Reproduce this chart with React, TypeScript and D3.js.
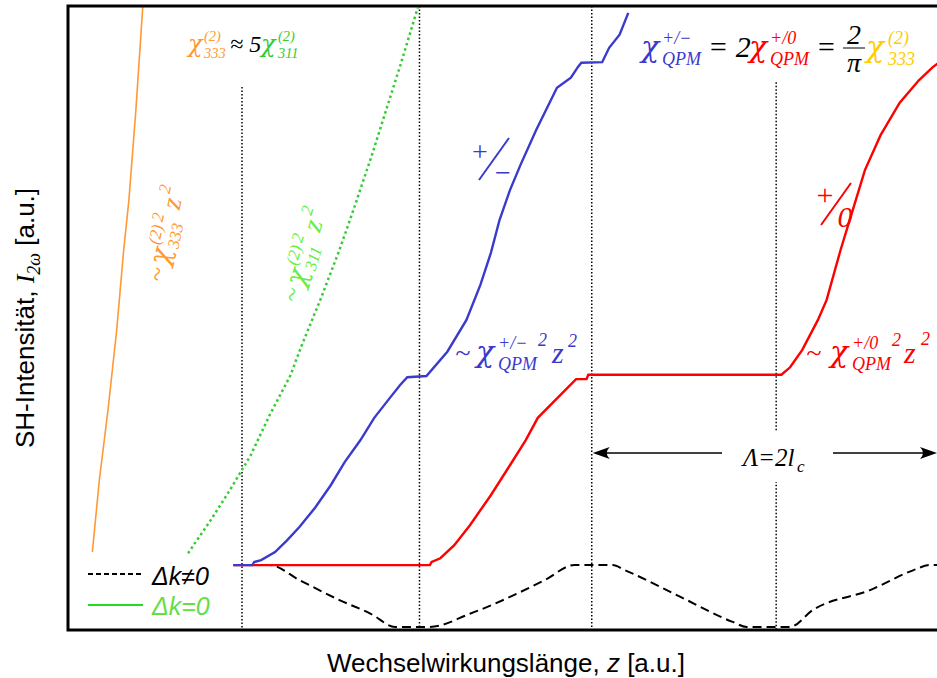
import React from 'react';
import * as d3 from 'd3';

const W = 937;
const H = 678;
const SERIF = "'Liberation Serif', 'Times New Roman', serif";
const GREEK = "'DejaVu Serif', 'Liberation Serif', serif";
const SANS = "'Liberation Sans', Arial, sans-serif";

// z in a.u. (l_c ~ 10), I_2w in a.u.
const dkNonZero: [number, number][] = [
  [9.6, 10.4], [11.6, 10.4], [13.3, 8.0], [15.6, 4.8], [17.4, 2.6], [18.8, 0.5],
  [20.8, 0.5], [23.1, 2.6], [25.4, 5.3], [27.4, 8.0], [29.1, 10.4], [31.3, 10.4],
  [32.0, 9.6], [35.2, 5.3], [38.2, 1.3], [39.0, 0.5], [41.5, 0.5], [42.8, 3.2],
  [46.1, 6.4], [48.6, 9.6], [49.5, 10.4], [50.4, 10.4],
];
const qpmPlusZero: [number, number][] = [
  [9.5, 10.4], [20.8, 10.4], [20.9, 10.9], [21.4, 11.5], [22.2, 13.6], [23.1, 16.8],
  [24.3, 21.6], [25.4, 26.4], [26.3, 30.4], [27.0, 34.0], [29.2, 40.2], [29.8, 40.2],
  [29.9, 40.9], [41.0, 40.9], [41.5, 42.1], [42.2, 44.9], [43.1, 49.7], [43.6, 52.9],
  [44.4, 60.9], [45.1, 67.3], [45.8, 73.7], [46.7, 79.3], [47.8, 84.5], [48.9, 88.1],
  [49.7, 90.2], [50.4, 91.7],
];
const qpmPlusMinus: [number, number][] = [
  [9.5, 10.4], [10.6, 10.4], [10.7, 10.9], [11.1, 11.2], [11.9, 12.5], [12.6, 14.4],
  [13.3, 16.5], [14.2, 19.6], [15.1, 23.2], [15.9, 26.9], [16.8, 30.4], [17.6, 34.0],
  [18.5, 37.2], [19.1, 39.3], [19.5, 40.5], [20.6, 40.7], [21.8, 44.6], [22.9, 49.7],
  [23.7, 55.3], [24.3, 60.4], [24.8, 65.7], [25.4, 70.5], [26.0, 74.5], [26.9, 80.1],
  [28.1, 86.9], [28.9, 88.5], [29.3, 90.2], [29.5, 90.9], [30.7, 91.0], [31.1, 93.3],
  [31.7, 95.4], [32.2, 98.9],
];
const chi311: [number, number][] = [
  [6.9, 12.3], [8.2, 17.6], [9.3, 22.4], [10.5, 28.0], [11.6, 34.5], [12.8, 40.9],
  [13.4, 45.4], [14.5, 52.9], [15.6, 60.9], [16.5, 68.1], [17.5, 76.4], [18.1, 81.7],
  [19.1, 90.5], [20.1, 99.7],
];
const chi333: [number, number][] = [
  [1.4, 12.5], [1.8, 24.0], [2.3, 35.3], [2.8, 48.1], [3.2, 60.9], [3.5, 68.9],
  [3.9, 83.3], [4.3, 100],
];
const markZ = [10.0, 20.2, 30.1, 40.7];
const markTop = [87, 100, 100, 87.8];

const x = d3.scaleLinear().domain([0, 50]).range([68, 938]);
const y = d3.scaleLinear().domain([0, 100]).range([630, 6]);
const line = d3.line<[number, number]>().x(d => x(d[0])).y(d => y(d[1]));
const smooth = d3.line<[number, number]>().x(d => x(d[0])).y(d => y(d[1])).curve(d3.curveMonotoneX);

const Chi = ({ x0, y0, color, size, sup, sub, dx }: any) => (
  <g fill={color} fontStyle="italic">
    <text x={x0} y={y0} fontSize={size} fontFamily={GREEK}>χ</text>
    <text x={x0 + dx} y={y0 - size * 0.45} fontSize={size * 0.6} fontFamily={SERIF}>{sup}</text>
    <text x={x0 + dx} y={y0 + size * 0.25} fontSize={size * 0.6} fontFamily={SERIF}>{sub}</text>
  </g>
);

const arrowHead = (tx: number, ty: number, dir: number) =>
  `M${tx},${ty} L${tx + dir * 17},${ty - 6} Q${tx + dir * 11},${ty} ${tx + dir * 17},${ty + 6} Z`;

export default function App() {
  const x0 = x(0), yTop = y(100), yBot = y(0);
  const yArrow = 453;
  return (
    <svg width={W} height={H} style={{ position: 'absolute', left: 0, top: 0, background: '#fff' }}>
      <rect width={W} height={H} fill="#fff" />
      {/* coherence length markers */}
      {markZ.map((z, i) => (
        <line key={i} x1={x(z)} x2={x(z)} y1={y(markTop[i])} y2={yBot}
          stroke="#000" strokeWidth={1.5} strokeDasharray="1.5 2" />
      ))}
      <path d={line(chi333)!} fill="none" stroke="#ff9933" strokeWidth={1.6} />
      <path d={line(chi311)!} fill="none" stroke="#33cc33" strokeWidth={2.5} strokeDasharray="2.5 3" />
      <path d={smooth(dkNonZero)!} fill="none" stroke="#000" strokeWidth={2} strokeDasharray="9 5" />
      <path d={line(qpmPlusZero)!} fill="none" stroke="#ff0000" strokeWidth={2.4} />
      <path d={line(qpmPlusMinus)!} fill="none" stroke="#3a3acc" strokeWidth={2.4} />

      {/* frame */}
      <path d={`M${x0},${yTop} H${W + 5} M${x0},${yTop - 1.5} V${yBot + 1.5} M${x0},${yBot} H${W + 5}`}
        stroke="#000" strokeWidth={3} fill="none" />

      {/* Lambda arrows */}
      <rect x={728} y={432} width={100} height={50} fill="#fff" />
      <line x1={x(30.1) + 4} x2={722} y1={yArrow} y2={yArrow} stroke="#000" strokeWidth={1.5} />
      <path d={arrowHead(x(30.1) + 1, yArrow, 1)} fill="#000" />
      <line x1={833} x2={x(50) - 4} y1={yArrow} y2={yArrow} stroke="#000" strokeWidth={1.5} />
      <path d={arrowHead(x(50) - 1, yArrow, -1)} fill="#000" />
      <text x={743} y={466} fontFamily={SERIF} fontStyle="italic" fontSize={25}>Λ=2l</text>
      <text x={797} y={472} fontFamily={SERIF} fontStyle="italic" fontSize={17}>c</text>

      {/* top-left formula */}
      <Chi x0={188} y0={52} color="#ff9933" size={24} sup="(2)" sub="333" dx={16} />
      <text x={230} y={52} fontFamily={SERIF} fontStyle="italic" fontSize={24}>≈ 5</text>
      <Chi x0={261} y0={52} color="#33cc33" size={24} sup="(2)" sub="311" dx={17} />

      {/* top-right formula */}
      <Chi x0={641} y0={57} color="#3a3acc" size={30} sup="+/−" sub="QPM" dx={21} />
      <text x={708} y={57} fontFamily={SERIF} fontStyle="italic" fontSize={30}>= 2</text>
      <Chi x0={749} y0={57} color="#ff0000" size={30} sup="+/0" sub="QPM" dx={21} />
      <text x={816} y={57} fontFamily={SERIF} fontStyle="italic" fontSize={30}>=</text>
      <text x={854} y={44} fontFamily={SERIF} fontStyle="italic" fontSize={28} textAnchor="middle">2</text>
      <line x1={843} x2={865} y1={48} y2={48} stroke="#000" strokeWidth={1} />
      <text x={854} y={72} fontFamily={SERIF} fontStyle="italic" fontSize={28} textAnchor="middle">π</text>
      <Chi x0={866} y0={57} color="#ffcc00" size={30} sup="(2)" sub="333" dx={22} />

      {/* fraction labels */}
      <g fill="#3a3acc" fontFamily={SERIF}>
        <text x={480} y={161} fontSize={28} textAnchor="middle">+</text>
        <line x1={509} y1={138} x2={479} y2={180} stroke="#3a3acc" strokeWidth={2} />
        <text x={503} y={182} fontSize={28} textAnchor="middle">−</text>
      </g>
      <g fill="#ff0000" fontFamily={SERIF}>
        <text x={825} y={205} fontSize={30} textAnchor="middle">+</text>
        <line x1={851} y1={183} x2={821} y2={225} stroke="#ff0000" strokeWidth={2} />
        <text x={845} y={227} fontSize={30} fontStyle="italic" textAnchor="middle">0</text>
      </g>

      {/* ~ chi^2 z^2 labels */}
      <g fill="#3a3acc" fontFamily={SERIF} fontStyle="italic">
        <text x={455} y={362} fontSize={28}>~</text>
        <Chi x0={476} y0={362} color="#3a3acc" size={30} sup="+/−" sub="QPM" dx={22} />
        <text x={538} y={346} fontSize={18}>2</text>
        <text x={552} y={363} fontSize={30}>z</text>
        <text x={568} y={347} fontSize={18}>2</text>
      </g>
      <g fill="#ff0000" fontFamily={SERIF} fontStyle="italic">
        <text x={806} y={362} fontSize={28}>~</text>
        <Chi x0={830} y0={362} color="#ff0000" size={30} sup="+/0" sub="QPM" dx={22} />
        <text x={892} y={346} fontSize={18}>2</text>
        <text x={904} y={363} fontSize={30}>z</text>
        <text x={921} y={345} fontSize={18}>2</text>
      </g>
      <g transform="translate(164,283) rotate(-78)" fill="#ff9933" fontFamily={SERIF} fontStyle="italic">
        <text x={0} y={0} fontSize={26}>~</text>
        <Chi x0={17} y0={0} color="#ff9933" size={28} sup="(2)" sub="333" dx={19} />
        <text x={59} y={-14} fontSize={17}>2</text>
        <text x={74} y={0} fontSize={28}>z</text>
        <text x={88} y={-13} fontSize={17}>2</text>
      </g>
      <g transform="translate(298,304) rotate(-73)" fill="#66ee44" fontFamily={SERIF} fontStyle="italic">
        <text x={0} y={0} fontSize={26}>~</text>
        <Chi x0={17} y0={0} color="#66ee44" size={28} sup="(2)" sub="311" dx={19} />
        <text x={59} y={-14} fontSize={17}>2</text>
        <text x={74} y={0} fontSize={28}>z</text>
        <text x={88} y={-13} fontSize={17}>2</text>
      </g>

      {/* legend */}
      <line x1={88} x2={143} y1={574} y2={574} stroke="#000" strokeWidth={2} strokeDasharray="5 3" />
      <text x={152} y={585} fontFamily={SANS} fontStyle="italic" fontSize={25} fill="#000">Δk≠0</text>
      <line x1={88} x2={143} y1={605} y2={605} stroke="#22dd22" strokeWidth={2} />
      <text x={152} y={615} fontFamily={SANS} fontStyle="italic" fontSize={25} fill="#66dd44">Δk=0</text>

      {/* axis titles */}
      <text x={506} y={672} textAnchor="middle" fontFamily={SANS} fontSize={26}>
        Wechselwirkungslänge, <tspan fontStyle="italic">z</tspan> [a.u.]
      </text>
      <text transform="translate(34,318) rotate(-90)" textAnchor="middle" fontFamily={SANS} fontSize={26}>
        SH-Intensität, <tspan fontFamily={SERIF} fontStyle="italic">I</tspan>
        <tspan fontFamily={SERIF} fontStyle="italic" fontSize={18} dy={6}>2ω</tspan>
        <tspan dy={-6}> [a.u.]</tspan>
      </text>
    </svg>
  );
}
